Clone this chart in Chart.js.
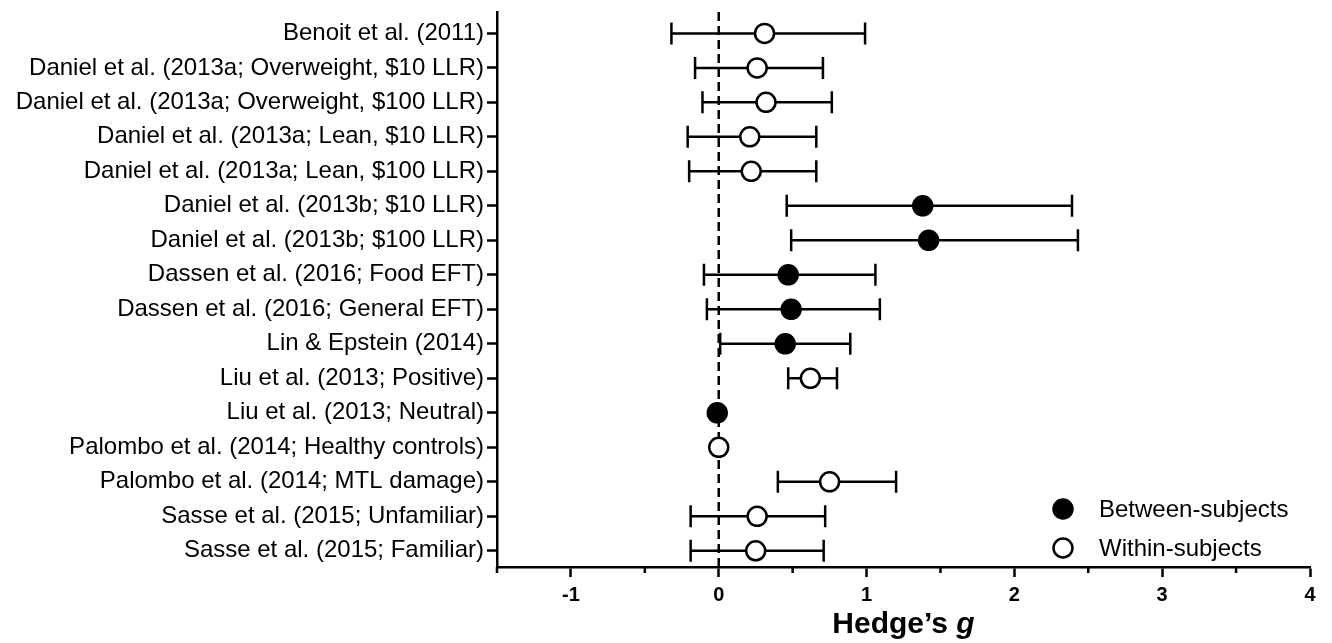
<!DOCTYPE html>
<html>
<head>
<meta charset="utf-8">
<script src="https://cdn.jsdelivr.net/npm/chart.js@4.4.1/dist/chart.umd.min.js"></script>
<style>
  html, body { margin: 0; padding: 0; background: #fff; }
  #wrap { width: 1332px; height: 643px; }
</style>
</head>
<body>
<div id="wrap"><canvas id="forest" width="1332" height="643"></canvas></div>
<script>
// Study rows, top to bottom
const studies = [
  'Benoit et al. (2011)',
  'Daniel et al. (2013a; Overweight, $10 LLR)',
  'Daniel et al. (2013a; Overweight, $100 LLR)',
  'Daniel et al. (2013a; Lean, $10 LLR)',
  'Daniel et al. (2013a; Lean, $100 LLR)',
  'Daniel et al. (2013b; $10 LLR)',
  'Daniel et al. (2013b; $100 LLR)',
  'Dassen et al. (2016; Food EFT)',
  'Dassen et al. (2016; General EFT)',
  'Lin & Epstein (2014)',
  'Liu et al. (2013; Positive)',
  'Liu et al. (2013; Neutral)',
  'Palombo et al. (2014; Healthy controls)',
  'Palombo et al. (2014; MTL damage)',
  'Sasse et al. (2015; Unfamiliar)',
  'Sasse et al. (2015; Familiar)'
];
// Effect size (Hedge's g) and 95% CI bounds per study
const hedgesG = [0.31, 0.26, 0.32, 0.21, 0.22, 1.38, 1.42, 0.47, 0.49, 0.45, 0.62, -0.01, 0.00, 0.75, 0.26, 0.25];
const ciLow   = [-0.32, -0.16, -0.11, -0.21, -0.20, 0.46, 0.49, -0.10, -0.08, 0.01, 0.47, null, null, 0.40, -0.19, -0.19];
const ciHigh  = [0.99, 0.705, 0.765, 0.66, 0.66, 2.39, 2.43, 1.06, 1.09, 0.89, 0.80, null, null, 1.20, 0.72, 0.71];
// Study design: B = between-subjects, W = within-subjects
const design  = ['W', 'W', 'W', 'W', 'W', 'B', 'B', 'B', 'B', 'B', 'W', 'B', 'W', 'W', 'W', 'W'];
const designNames = { B: 'Between-subjects', W: 'Within-subjects' };

const xMajorTicks = [-1, 0, 1, 2, 3, 4];
const xMinorTicks = [-1.5, -0.5, 0.5, 1.5, 2.5, 3.5];

const FONT = "'Liberation Sans', Arial, Helvetica, sans-serif";
const INK = '#000';
const LW = 2.5;

function pointsFor(code) {
  const pts = [];
  design.forEach((d, i) => { if (d === code) pts.push({ x: hedgesG[i], y: i }); });
  return pts;
}

// Zero reference line and confidence-interval whiskers, under the markers
const whiskers = {
  id: 'whiskers',
  beforeDatasetsDraw(chart) {
    const { ctx, chartArea } = chart;
    const xs = chart.scales.x, ys = chart.scales.y;
    ctx.save();
    ctx.strokeStyle = INK;
    ctx.lineWidth = LW;
    // dashed line at g = 0
    const x0 = xs.getPixelForValue(0);
    ctx.setLineDash([9, 5]);
    ctx.beginPath();
    ctx.moveTo(x0, chartArea.top);
    ctx.lineTo(x0, chartArea.bottom);
    ctx.stroke();
    ctx.setLineDash([]);
    const cap = 11;
    studies.forEach((_, i) => {
      if (ciLow[i] == null || ciHigh[i] == null) return;
      const y = ys.getPixelForValue(i);
      const a = xs.getPixelForValue(ciLow[i]);
      const b = xs.getPixelForValue(ciHigh[i]);
      ctx.beginPath();
      ctx.moveTo(a, y); ctx.lineTo(b, y);
      ctx.moveTo(a, y - cap); ctx.lineTo(a, y + cap);
      ctx.moveTo(b, y - cap); ctx.lineTo(b, y + cap);
      ctx.stroke();
    });
    ctx.restore();
  }
};

// Short minor ticks at the half units of the x axis
const minorTicks = {
  id: 'minorTicks',
  afterDraw(chart) {
    const { ctx, chartArea } = chart;
    const xs = chart.scales.x;
    ctx.save();
    ctx.strokeStyle = INK;
    ctx.lineWidth = LW;
    xMinorTicks.forEach(v => {
      const x = xs.getPixelForValue(v);
      ctx.beginPath();
      ctx.moveTo(x, chartArea.bottom);
      ctx.lineTo(x, chartArea.bottom + 6);
      ctx.stroke();
    });
    ctx.restore();
  }
};

// Axis title with the italic g
const axisTitle = {
  id: 'axisTitle',
  afterDraw(chart) {
    const { ctx, chartArea } = chart;
    const cx = (chartArea.left + chartArea.right) / 2;
    const base = 633;
    const partA = 'Hedge\u2019s ';
    const partB = 'g';
    ctx.save();
    ctx.fillStyle = INK;
    ctx.textBaseline = 'alphabetic';
    ctx.textAlign = 'left';
    const fA = 'bold 30px ' + FONT;
    const fB = 'italic bold 30px ' + FONT;
    ctx.font = fA; const wA = ctx.measureText(partA).width;
    ctx.font = fB; const wB = ctx.measureText(partB).width;
    const start = cx - (wA + wB) / 2;
    ctx.font = fA; ctx.fillText(partA, start, base);
    ctx.font = fB; ctx.fillText(partB, start + wA, base);
    ctx.restore();
  }
};

// Legend in the lower right of the plot
const markerLegend = {
  id: 'markerLegend',
  afterDraw(chart) {
    const { ctx } = chart;
    const rows = [509, 548];
    ctx.save();
    ctx.font = '24px ' + FONT;
    ctx.textBaseline = 'middle';
    ctx.textAlign = 'left';
    chart.data.datasets.forEach((ds, k) => {
      const y = rows[k];
      ctx.beginPath();
      ctx.arc(1063, y, ds.pointRadius, 0, Math.PI * 2);
      ctx.fillStyle = ds.backgroundColor;
      ctx.fill();
      ctx.lineWidth = ds.borderWidth;
      ctx.strokeStyle = ds.borderColor;
      ctx.stroke();
      ctx.fillStyle = INK;
      ctx.fillText(ds.label, 1099, y + 1);
    });
    ctx.restore();
  }
};

new Chart(document.getElementById('forest'), {
  type: 'scatter',
  data: {
    datasets: [
      {
        label: designNames.B,
        data: pointsFor('B'),
        pointRadius: 9.5, pointHoverRadius: 9.5,
        backgroundColor: INK, borderColor: INK, borderWidth: LW
      },
      {
        label: designNames.W,
        data: pointsFor('W'),
        pointRadius: 9.5, pointHoverRadius: 9.5,
        backgroundColor: '#fff', borderColor: INK, borderWidth: LW
      }
    ]
  },
  options: {
    responsive: false,
    animation: false,
    devicePixelRatio: 1,
    events: [],
    layout: { padding: { top: 10, right: 22, left: 0, bottom: 0 } },
    plugins: { legend: { display: false }, tooltip: { enabled: false } },
    scales: {
      x: {
        type: 'linear',
        min: -1.5, max: 4,
        afterBuildTicks: s => { s.ticks = xMajorTicks.map(v => ({ value: v })); },
        afterFit: s => { s.height = 76; s.paddingLeft = 0; s.paddingRight = 0; },
        ticks: {
          color: INK, padding: 6, autoSkip: false, maxRotation: 0,
          font: { family: FONT, size: 20, weight: 'bold' },
          callback: v => String(v)
        },
        grid: { drawOnChartArea: false, drawTicks: true, tickLength: 10, tickWidth: LW, tickColor: INK },
        border: { display: true, color: INK, width: LW }
      },
      y: {
        type: 'linear',
        reverse: true,
        min: -0.62, max: 15.47,
        afterBuildTicks: s => { s.ticks = studies.map((_, i) => ({ value: i })); },
        afterFit: s => { s.width = 497; s.paddingTop = 0; s.paddingBottom = 0; },
        ticks: {
          color: INK, padding: 3, autoSkip: false,
          font: { family: FONT, size: 24 },
          callback: v => studies[v]
        },
        grid: { drawOnChartArea: false, drawTicks: true, tickLength: 10, tickWidth: LW, tickColor: INK },
        border: { display: true, color: INK, width: LW }
      }
    }
  },
  plugins: [whiskers, minorTicks, axisTitle, markerLegend]
});
</script>
</body>
</html>
